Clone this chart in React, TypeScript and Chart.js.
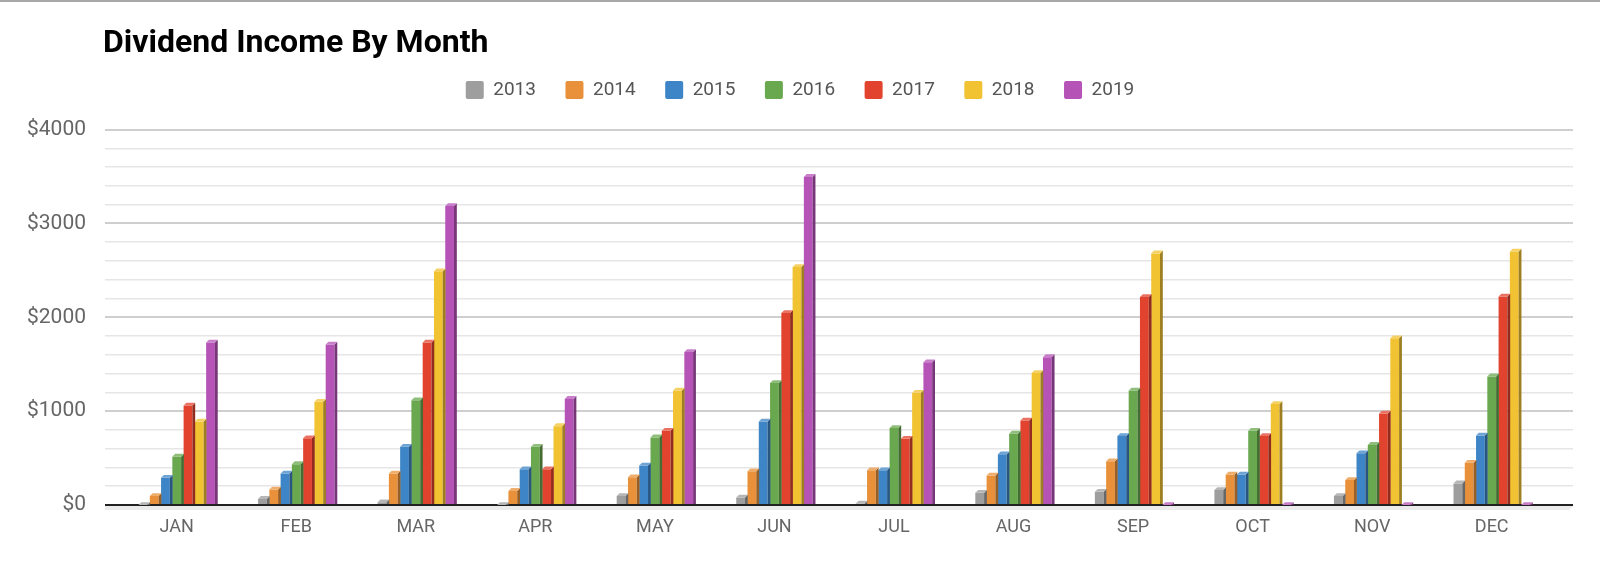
import React, { useEffect, useRef } from "react";
import { Chart, registerables, Plugin } from "chart.js";

Chart.register(...registerables);

const TITLE = "Dividend Income By Month";

const months = ["JAN", "FEB", "MAR", "APR", "MAY", "JUN", "JUL", "AUG", "SEP", "OCT", "NOV", "DEC"];
const years = ["2013", "2014", "2015", "2016", "2017", "2018", "2019"];
const colors = ["#9e9e9e", "#e8913a", "#3d85c6", "#6aa84f", "#e2432e", "#f1c232", "#b553b7"];

// monthly dividend income per year
const income2013 = [0, 65, 30, 0, 95, 80, 15, 130, 140, 160, 95, 230];
const income2014 = [95, 165, 335, 150, 295, 360, 370, 315, 465, 325, 265, 450];
const income2015 = [290, 335, 620, 380, 420, 890, 370, 540, 735, 325, 550, 740];
const income2016 = [515, 435, 1115, 620, 720, 1300, 820, 760, 1220, 790, 640, 1370];
const income2017 = [1060, 710, 1730, 380, 790, 2045, 705, 900, 2215, 735, 975, 2220];
const income2018 = [890, 1100, 2490, 840, 1220, 2535, 1195, 1405, 2680, 1075, 1775, 2700];
const income2019 = [1730, 1710, 3185, 1130, 1630, 3495, 1520, 1575, 0, 0, 0, 0];
const series = [income2013, income2014, income2015, income2016, income2017, income2018, income2019];

const Y_MAX = 4000;
const Y_STEP = 200;
const Y_MAJOR = 1000;

// lighten (f > 0) or darken (f < 0) a hex colour
const shade = (hex: string, f: number) => {
    const n = parseInt(hex.slice(1), 16);
    const ch = [(n >> 16) & 255, (n >> 8) & 255, n & 255].map((c) =>
        Math.round(f < 0 ? c * (1 + f) : c + (255 - c) * f)
    );
    return `rgb(${ch[0]}, ${ch[1]}, ${ch[2]})`;
};

// thin grey rule along the top of the page
const pageRule: Plugin<"bar"> = {
    id: "pageRule",
    beforeDraw(chart) {
        const { ctx, width } = chart;
        ctx.save();
        ctx.fillStyle = "#a8a8a8";
        ctx.fillRect(0, 0, width, 2);
        ctx.restore();
    },
};

// title sits flush with the plot's left edge
const titlePlugin: Plugin<"bar"> = {
    id: "sheetTitle",
    afterDraw(chart) {
        const { ctx, chartArea } = chart;
        ctx.save();
        ctx.font = "bold 32px Roboto";
        ctx.fillStyle = "#000";
        ctx.textBaseline = "middle";
        ctx.fillText(TITLE, chartArea.left - 2, 44);
        ctx.restore();
    },
};

// extra room under the legend
const legendGap: Plugin<"bar"> = {
    id: "legendGap",
    beforeInit(chart: any) {
        const legend = chart.legend;
        if (!legend) return;
        const fit = legend.fit;
        legend.fit = function () {
            fit.call(legend);
            this.height += 20;
        };
    },
};

// floor strip under the zero line
const floorPlugin: Plugin<"bar"> = {
    id: "floor",
    beforeDatasetsDraw(chart) {
        const { ctx, chartArea, scales } = chart;
        const y0 = scales.y.getPixelForValue(0);
        ctx.save();
        ctx.fillStyle = "#ebebeb";
        ctx.beginPath();
        ctx.moveTo(chartArea.left, y0 + 1);
        ctx.lineTo(chartArea.right, y0 + 1);
        ctx.lineTo(chartArea.right - 4, y0 + 5);
        ctx.lineTo(chartArea.left, y0 + 5);
        ctx.closePath();
        ctx.fill();
        ctx.restore();
    },
};

// fake 3D: darker side face and lighter top cap on each bar
const bar3dPlugin: Plugin<"bar"> = {
    id: "bar3d",
    afterDatasetsDraw(chart) {
        const { ctx } = chart;
        const d = 2.8;
        ctx.save();
        chart.data.datasets.forEach((_, i) => {
            if (!chart.isDatasetVisible(i)) return;
            const meta = chart.getDatasetMeta(i);
            meta.data.forEach((el: any) => {
                const { x, y, base, width } = el.getProps(["x", "y", "base", "width"], true);
                const l = x - width / 2;
                const r = x + width / 2;
                ctx.fillStyle = shade(colors[i], -0.35);
                ctx.beginPath();
                ctx.moveTo(r, y);
                ctx.lineTo(r + d, y - d);
                ctx.lineTo(r + d, base);
                ctx.lineTo(r, base);
                ctx.closePath();
                ctx.fill();
                ctx.fillStyle = shade(colors[i], 0.25);
                ctx.beginPath();
                ctx.moveTo(l, y);
                ctx.lineTo(l + d, y - d);
                ctx.lineTo(r + d, y - d);
                ctx.lineTo(r, y);
                ctx.closePath();
                ctx.fill();
            });
        });
        ctx.restore();
    },
};

const App: React.FC = () => {
    const canvasRef = useRef<HTMLCanvasElement | null>(null);

    useEffect(() => {
        if (!canvasRef.current) return;

        const chart = new Chart(canvasRef.current, {
            type: "bar",
            data: {
                datasets: years.map((year, i) => ({
                    label: year,
                    data: series[i].map((v, j) => ({ x: j, y: v })),
                    backgroundColor: colors[i],
                    borderWidth: 0,
                    categoryPercentage: 0.66,
                    barPercentage: 0.78,
                })),
            },
            options: {
                responsive: true,
                maintainAspectRatio: false,
                animation: false,
                layout: { padding: { top: 51, left: 27, right: 27, bottom: 0 } },
                plugins: {
                    legend: {
                        position: "top",
                        align: "center",
                        labels: {
                            boxWidth: 18,
                            boxHeight: 18,
                            padding: 29.5,
                            color: "#555",
                            useBorderRadius: true,
                            borderRadius: 2,
                            font: { family: "Roboto", size: 19 },
                        },
                    },
                    tooltip: { enabled: false },
                },
                scales: {
                    x: {
                        type: "linear",
                        min: -0.6,
                        max: 11.68,
                        offset: false,
                        afterBuildTicks: (scale: any) => {
                            scale.ticks = months.map((_, i) => ({ value: i }));
                        },
                        afterFit: (scale: any) => {
                            scale.height = 57;
                        },
                        grid: { display: false, drawTicks: false },
                        border: { display: false },
                        ticks: {
                            autoSkip: false,
                            maxRotation: 0,
                            padding: 12,
                            color: "#666",
                            font: { family: "Roboto", size: 18 },
                            callback: (v: any) => months[v] ?? "",
                        },
                    },
                    y: {
                        min: 0,
                        max: Y_MAX,
                        afterFit: (scale: any) => {
                            scale.width = 78;
                        },
                        grid: {
                            drawTicks: false,
                            color: (c: any) =>
                                c.tick.value === 0 ? "#222" : c.tick.value % Y_MAJOR === 0 ? "#cfcfcf" : "#e6e6e6",
                            lineWidth: (c: any) =>
                                c.tick.value === 0 ? 2 : c.tick.value % Y_MAJOR === 0 ? 2 : 1.5,
                        },
                        border: { display: false },
                        ticks: {
                            stepSize: Y_STEP,
                            autoSkip: false,
                            padding: 19,
                            color: "#666",
                            font: { family: "Roboto", size: 21 },
                            callback: (v: any) => (v % Y_MAJOR === 0 ? "$" + v : ""),
                        },
                    },
                },
            } as any,
            plugins: [pageRule, titlePlugin, legendGap, floorPlugin, bar3dPlugin],
        });

        return () => {
            chart.destroy();
        };
    }, []);

    return (
        <div style={{ position: "absolute", left: 0, top: 0, width: 1600, height: 562, background: "#fff" }}>
            <canvas ref={canvasRef}></canvas>
        </div>
    );
};

export default App;
